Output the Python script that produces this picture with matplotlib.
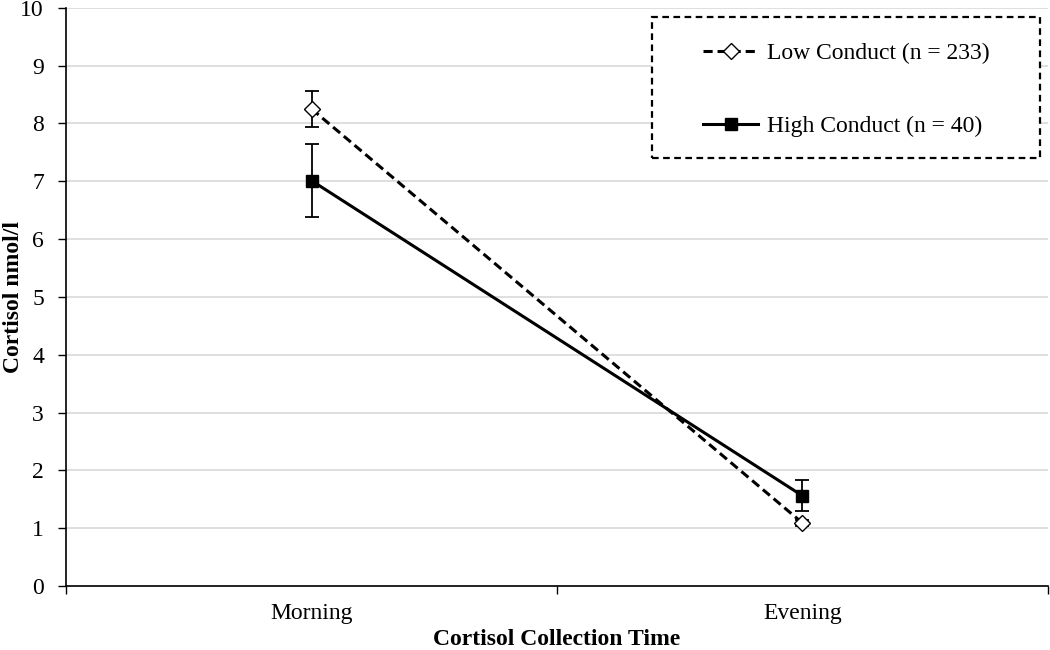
import matplotlib.pyplot as plt
from matplotlib.patches import Rectangle
import numpy as np

times = ['Morning', 'Evening']
low_mean = [8.25, 1.09]
low_err = [0.31, 0.05]
high_mean = [7.01, 1.56]
high_err = [0.63, 0.27]
low_label = 'Low Conduct (n = 233)'
high_label = 'High Conduct (n = 40)'

plt.rcParams['font.family'] = ['Liberation Serif', 'DejaVu Serif']

fig = plt.figure(figsize=(10.5, 6.5), dpi=100)
ax = fig.add_axes([0.063, 0.0985, 0.935, 0.8895])

x = np.arange(1, len(times) + 1)

# error bars first, lines + markers on top (legend only uses the lines)
ax.errorbar(x, low_mean, yerr=low_err, fmt='none', ecolor='black', elinewidth=1.3,
            capsize=5, capthick=1.3, zorder=3)
ax.errorbar(x, high_mean, yerr=high_err, fmt='none', ecolor='black', elinewidth=1.3,
            capsize=5, capthick=1.3, zorder=3)
ax.plot(x, low_mean, color='black', linestyle=(0, (3, 1.6)), linewidth=2.2,
        marker='D', markersize=8, markerfacecolor='white', markeredgecolor='black',
        markeredgewidth=1, label=low_label, zorder=4)
ax.plot(x, high_mean, color='black', linestyle='-', linewidth=2.2,
        marker='s', markersize=9, markerfacecolor='black', markeredgecolor='black',
        label=high_label, zorder=4)

ax.set_xlim(0.5, len(times) + 0.5)
ax.set_ylim(0, 10)
ax.set_yticks(range(0, 11))
ax.set_xticks(np.arange(0.5, len(times) + 1, 1))
ax.set_xticklabels([])
ax.set_xticks(x, minor=True)
ax.set_xticklabels(times, minor=True)
ax.tick_params(axis='x', which='minor', length=0, pad=12, labelsize=17)
ax.tick_params(axis='x', which='major', length=6, width=1, direction='out')
ax.tick_params(axis='y', length=6, width=1, direction='out', labelsize=17, pad=10)

ax.grid(axis='y', color='#d9d9d9', linewidth=1.2, zorder=0)
ax.set_axisbelow(True)
for s in ['top', 'right']:
    ax.spines[s].set_visible(False)
ax.spines['left'].set_linewidth(1.2)
ax.spines['bottom'].set_linewidth(1.2)

ax.set_xlabel('Cortisol Collection Time', fontsize=17, fontweight='bold', labelpad=4)
ax.set_ylabel('Cortisol nmol/l', fontsize=17, fontweight='bold')
ax.yaxis.set_label_coords(-0.043, 0.5)

# legend with dashed frame drawn separately
box_x0, box_x1 = 0.597, 0.992
box_y0, box_y1 = 0.740, 0.984
ax.add_patch(Rectangle((box_x0, box_y0), box_x1 - box_x0, box_y1 - box_y0,
                       transform=ax.transAxes, facecolor='white', edgecolor='black',
                       linestyle=(0, (3, 2)), linewidth=1.6, zorder=5, clip_on=False))
leg = ax.legend(loc='center', bbox_to_anchor=((box_x0 + box_x1) / 2, (box_y0 + box_y1) / 2 - 0.004),
                fontsize=17, frameon=False, handlelength=2.35, handletextpad=0.35,
                labelspacing=2.2, borderpad=0, borderaxespad=0)
leg.set_zorder(6)

plt.savefig('out.png', dpi=100)
